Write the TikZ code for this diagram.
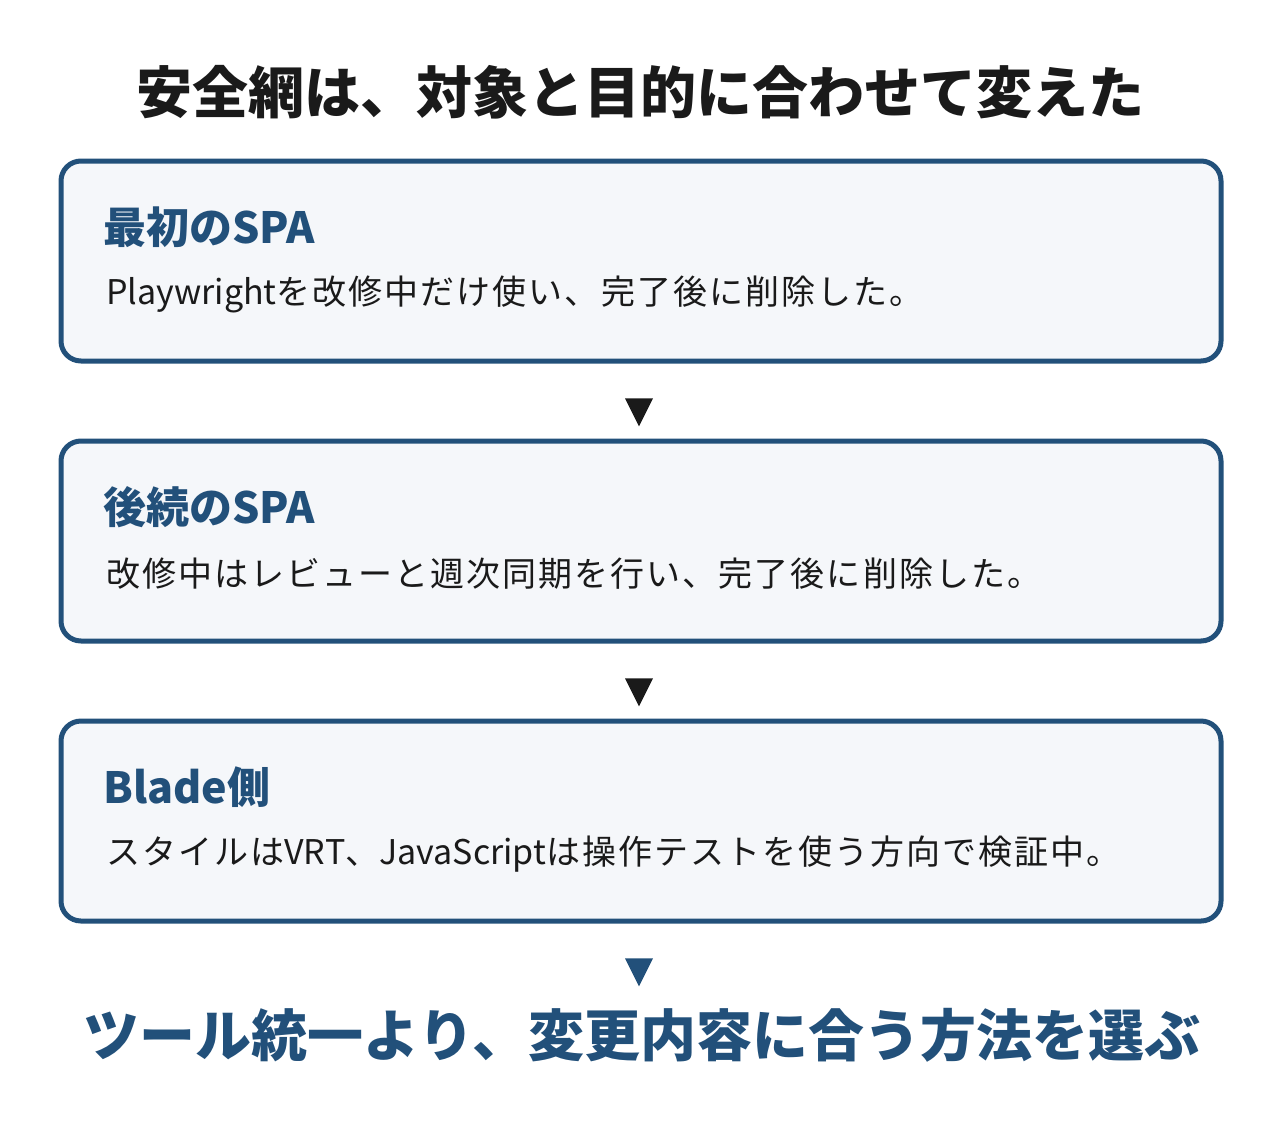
\documentclass[tikz,border=0pt]{standalone}
\usepackage{fontspec}
\setmainfont{Noto Sans CJK JP}
\newfontfamily\spaced[LetterSpace=6]{Noto Sans CJK JP}
\newfontfamily\plain{Noto Sans CJK JP}
\newcommand\lat[1]{{\plain #1}}
\usetikzlibrary{positioning}
\usetikzlibrary{shapes.geometric}
\definecolor{navy}{HTML}{22507A}
\definecolor{ink}{HTML}{1A1A1A}
\definecolor{pale}{HTML}{F5F7FA}

\begin{document}
\begin{tikzpicture}[x=1pt, y=-1pt,
    card/.style={draw=navy, line width=5pt, fill=pale, rounded corners=20pt,
        minimum width=1160pt, minimum height=200pt},
    head/.style={anchor=west, inner sep=0pt, text=navy, font=\fontsize{43}{50}\selectfont\bfseries},
    body/.style={anchor=west, inner sep=0pt, text=ink, font=\spaced\fontsize{34}{40}\selectfont},
    tri/.style={isosceles triangle, isosceles triangle apex angle=53, shape border rotate=-90,
        fill=#1, inner sep=0pt, minimum height=28pt, minimum width=28pt}]
    \useasboundingbox (0,0) rectangle (1280,1120);

    % Title
    \node[text=ink, font=\fontsize{56}{66}\selectfont\bfseries] (title) at (640,92) {安全網は、対象と目的に合わせて変えた};

    % Cards
    \node[card] (first) at (641,261) {};
    \node[head] (firsthead) at (103,227) {最初のSPA};
    \node[body] (firstbody) at (106,294) {\lat{Playwright}を改修中だけ使い、完了後に削除した。};

    \node[card] (later) at (641,541) {};
    \node[head] (laterhead) at (103,507) {後続のSPA};
    \node[body] (laterbody) at (106,574) {改修中はレビューと週次同期を行い、完了後に削除した。};

    \node[card] (blade) at (641,821) {};
    \node[head] (bladehead) at (103,787) {Blade側};
    \node[body] (bladebody) at (106,854) {スタイルは\lat{VRT}、\lat{JavaScript}は操作テストを使う方向で検証中。};

    % Markers
    \node[tri=ink] (mark1) at (639,407) {};
    \node[tri=ink] (mark2) at (639,687) {};
    \node[tri=navy] (mark3) at (639,967) {};

    % Conclusion
    \node[text=navy, font=\fontsize{56}{66}\selectfont\bfseries] (result) at (642,1035) {ツール統一より、変更内容に合う方法を選ぶ};

\end{tikzpicture}
\end{document}
